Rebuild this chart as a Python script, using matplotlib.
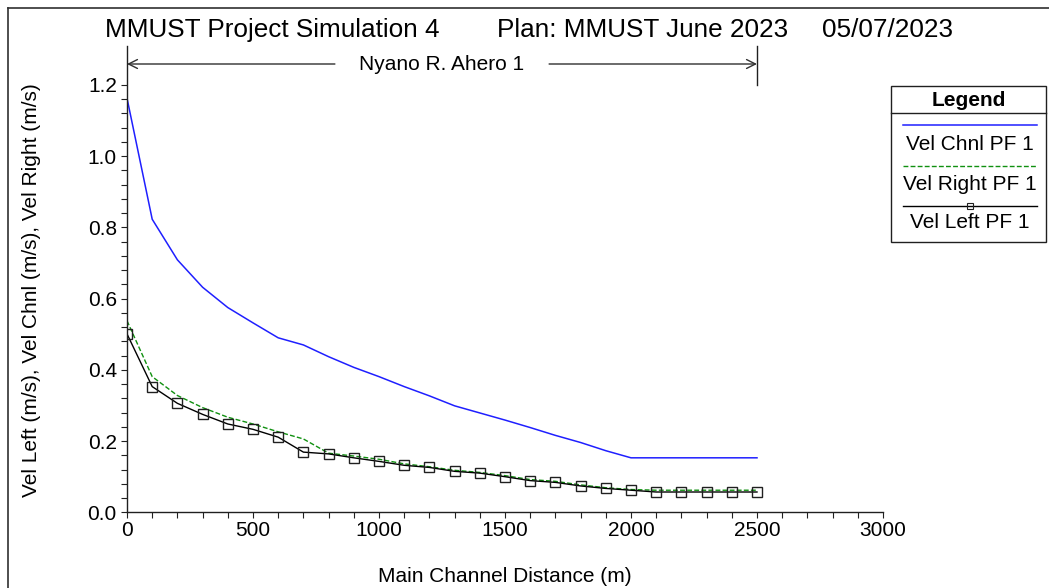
import numpy as np
import matplotlib
matplotlib.use("Agg")
import matplotlib.pyplot as plt
from matplotlib.lines import Line2D
from matplotlib.patches import Rectangle
from matplotlib.ticker import FixedLocator, MultipleLocator, FormatStrFormatter

# ---- data -----------------------------------------------------------------
distance = [0, 100, 200, 300, 400, 500, 600, 700, 800, 900, 1000, 1100, 1200,
            1300, 1400, 1500, 1600, 1700, 1800, 1900, 2000, 2100, 2200, 2300,
            2400, 2500]
vel_chnl = [1.163, 0.823, 0.709, 0.632, 0.575, 0.532, 0.490, 0.470, 0.437,
            0.407, 0.381, 0.353, 0.327, 0.299, 0.279, 0.259, 0.238, 0.216,
            0.196, 0.173, 0.153, 0.153, 0.153, 0.153, 0.153, 0.153]
vel_right = [0.538, 0.381, 0.328, 0.294, 0.267, 0.248, 0.226, 0.206, 0.166,
             0.158, 0.149, 0.136, 0.128, 0.118, 0.112, 0.103, 0.092, 0.087,
             0.077, 0.069, 0.064, 0.062, 0.062, 0.062, 0.062, 0.062]
vel_left = [0.501, 0.353, 0.306, 0.275, 0.248, 0.233, 0.211, 0.169, 0.164,
            0.153, 0.143, 0.132, 0.126, 0.115, 0.110, 0.100, 0.089, 0.084,
            0.074, 0.067, 0.062, 0.057, 0.057, 0.057, 0.057, 0.057]

series_labels = ["Vel Chnl PF 1", "Vel Right PF 1", "Vel Left PF 1"]
title_parts = ["MMUST Project Simulation 4", "Plan: MMUST June 2023", "05/07/2023"]
reach_name = "Nyano R. Ahero 1"
reach_start, reach_end = 0, 2500
x_label = "Main Channel Distance (m)"
y_label = "Vel Left (m/s), Vel Chnl (m/s), Vel Right (m/s)"

# ---- figure ---------------------------------------------------------------
plt.rcParams["font.family"] = ["Liberation Sans", "DejaVu Sans"]
W, H = 1049, 588
fig = plt.figure(figsize=(W / 100, H / 100), dpi=100)
fig.patch.set_facecolor("white")


def fx(px):
    return px / W


def fy(py):
    return 1 - py / H


ax = fig.add_axes([fx(127), fy(512.3), (883 - 127) / W, (512.3 - 46) / H])
ax.set_xlim(0, 3000)
ax.set_ylim(0, 1.3095)

styles = [
    dict(color="#1f1fff", lw=1.1, ls="-"),
    dict(color="#109010", lw=1.0, ls=(0, (3.5, 1.6))),
    dict(color="black", lw=1.0, ls="-", marker="s", markersize=7,
         markerfacecolor="none", markeredgecolor="#202020", markeredgewidth=1.0),
]
for vals, st in zip([vel_chnl, vel_right, vel_left], styles):
    ax.plot(distance, vals, **st)

# axes styling
for side in ("top", "right"):
    ax.spines[side].set_visible(False)
for side in ("left", "bottom"):
    ax.spines[side].set_linewidth(1.0)
    ax.spines[side].set_color("#202020")

ax.xaxis.set_major_locator(MultipleLocator(500))
ax.xaxis.set_minor_locator(MultipleLocator(100))
ax.yaxis.set_major_locator(FixedLocator(np.arange(0, 1.21, 0.2)))
ax.yaxis.set_minor_locator(FixedLocator(np.arange(0, 1.201, 0.04)))
ax.yaxis.set_major_formatter(FormatStrFormatter("%.1f"))
ax.tick_params(which="both", direction="out", length=4.3, width=0.8,
               color="#202020", labelsize=15)
ax.tick_params(axis="x", which="both", pad=2)
ax.tick_params(axis="y", which="both", pad=3)

# reach annotation above the curves
y_arrow = (512.3 - 64) / (512.3 - 46) * 1.3095
mid = (reach_start + reach_end) / 2
gap = 425
arrow_kw = dict(arrowstyle="->", color="#303030", lw=1.0, shrinkA=0, shrinkB=0,
                mutation_scale=16)
ax.annotate("", xy=(reach_start, y_arrow), xytext=(mid - gap, y_arrow),
            arrowprops=arrow_kw, annotation_clip=False)
ax.annotate("", xy=(reach_end, y_arrow), xytext=(mid + gap, y_arrow),
            arrowprops=arrow_kw, annotation_clip=False)
ax.plot([reach_end, reach_end], [1.2, 1.3095], color="#202020", lw=1.0,
        clip_on=False)
ax.text(mid, y_arrow, reach_name, ha="center", va="center", fontsize=15)

# title
title_x = [105, 497, 822]
for t, x0 in zip(title_parts, title_x):
    fig.text(fx(x0), fy(30), t, ha="left", va="center", fontsize=18.8)

# axis labels
fig.text(fx(505), fy(576), x_label, ha="center", va="center", fontsize=15)
fig.text(fx(32), fy(290), y_label, ha="center", va="center", rotation=90,
         fontsize=15)

# legend box
lx0, lx1, ly0, ly1 = 891, 1046, 86, 242
fig.add_artist(Rectangle((fx(lx0), fy(ly1)), (lx1 - lx0) / W, (ly1 - ly0) / H,
                         transform=fig.transFigure, fill=False,
                         edgecolor="#202020", lw=1.0))
fig.add_artist(Line2D([fx(lx0), fx(lx1)], [fy(113), fy(113)],
                      transform=fig.transFigure, color="#202020", lw=1.0))
fig.text(fx((lx0 + lx1) / 2), fy(100), "Legend", ha="center", va="center",
         fontsize=15, fontweight="bold")
line_y = [125, 166, 206]
text_y = [144, 185, 222]
for lab, st, yl, yt in zip(series_labels, styles, line_y, text_y):
    kw = dict(st)
    kw.pop("marker", None)
    for k in ("markersize", "markerfacecolor", "markeredgecolor", "markeredgewidth"):
        kw.pop(k, None)
    fig.add_artist(Line2D([fx(903), fx(1037)], [fy(yl), fy(yl)],
                          transform=fig.transFigure, **kw))
    if "marker" in st:
        fig.add_artist(Line2D([fx(970)], [fy(yl)], transform=fig.transFigure,
                              marker="s", markersize=4, markerfacecolor="none",
                              markeredgecolor="#202020", markeredgewidth=0.8,
                              lw=0))
    fig.text(fx(970), fy(yt), lab, ha="center", va="center", fontsize=15)

# outer frame lines
fig.add_artist(Line2D([fx(8), fx(W)], [fy(8), fy(8)], transform=fig.transFigure,
                      color="#303030", lw=1.2))
fig.add_artist(Line2D([fx(8), fx(8)], [fy(8), fy(H)], transform=fig.transFigure,
                      color="#303030", lw=1.2))

fig.savefig("out.png", dpi=100, facecolor="white")
